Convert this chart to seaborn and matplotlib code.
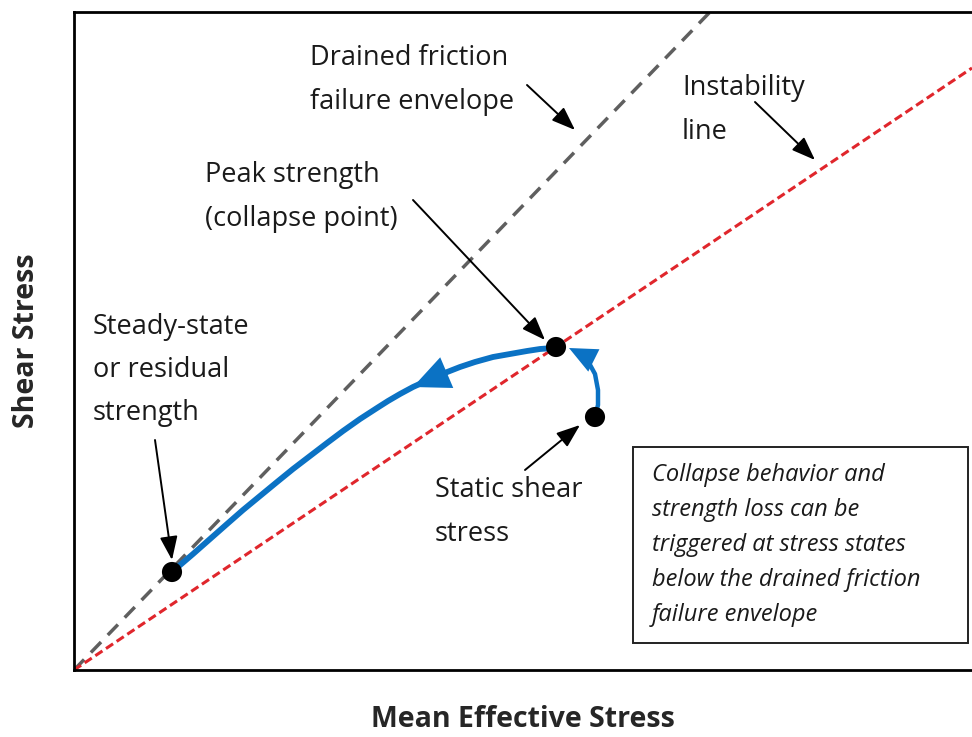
import matplotlib
matplotlib.use("Agg")
import matplotlib.pyplot as plt
from matplotlib.patches import Rectangle
import seaborn as sns
import pandas as pd

# Enveloppes (extrémités)
drained_x = [0.0, 6.36]
drained_y = [0.0, 6.58]
instab_x = [0.0, 8.98]
instab_y = [0.0, 6.02]

# Chemin de contrainte : état stationnaire <- pic
path_x = [0.98, 1.19, 1.36, 1.53, 1.69, 1.86, 2.03, 2.19, 2.36, 2.53, 2.69, 2.86,
          3.03, 3.14, 3.26, 3.39, 3.63, 3.86, 4.01, 4.19, 4.36, 4.53, 4.66, 4.79, 4.82]
path_y = [0.98, 1.16, 1.31, 1.46, 1.60, 1.74, 1.88, 2.01, 2.14, 2.27, 2.39, 2.51,
          2.62, 2.69, 2.76, 2.83, 2.94, 3.03, 3.08, 3.13, 3.16, 3.19, 3.21, 3.22, 3.23]

# Chemin : contrainte statique -> pic
static_x = [5.21, 5.24, 5.24, 5.21, 5.15, 5.07, 4.95]
static_y = [2.53, 2.65, 2.80, 2.96, 3.07, 3.16, 3.22]

# Points clés
pts = pd.DataFrame({
    "p": [0.98, 4.82, 5.21],
    "q": [0.98, 3.23, 2.53],
})

# Annotations : texte, position du texte, flèche (départ, arrivée)
labels = ["Drained friction\nfailure envelope", "Instability\nline",
          "Peak strength\n(collapse point)", "Steady-state\nor residual\nstrength",
          "Static shear\nstress"]
label_xy = [(2.36, 5.90), (6.08, 5.60), (1.31, 4.73), (0.19, 3.00), (3.61, 1.58)]
arrow_from = [(4.53, 5.85), (6.81, 5.68), (3.39, 4.70), (0.81, 2.30), (4.51, 2.00)]
arrow_to = [(5.01, 5.40), (7.41, 5.10), (4.71, 3.30), (0.98, 1.10), (5.06, 2.45)]

note = ("Collapse behavior and\nstrength loss can be\ntriggered at stress states\n"
        "below the drained friction\nfailure envelope")

sns.set_style("white")
plt.rcParams["font.family"] = ["Open Sans", "DejaVu Sans"]

fig = plt.figure(figsize=(9.72, 7.37), dpi=100)
ax = fig.add_axes([74 / 972, 67 / 737, 898 / 972, 658 / 737])

blue = "#0b72c4"
sns.lineplot(x=drained_x, y=drained_y, ax=ax, color="#5f5f5f", lw=2.5,
             linestyle=(0, (4.2, 2.8)))
sns.lineplot(x=instab_x, y=instab_y, ax=ax, color="#e0262c", lw=2.2,
             linestyle=(0, (2.8, 1.4)))
sns.lineplot(x=path_x, y=path_y, ax=ax, color=blue, lw=4.2, sort=False,
             estimator=None)
sns.lineplot(x=static_x[:-1], y=static_y[:-1], ax=ax, color=blue, lw=3.2,
             sort=False, estimator=None)

# têtes de flèche bleues
ax.annotate("", xy=(path_x[15], path_y[15]), xytext=(path_x[17], path_y[17]),
            arrowprops=dict(arrowstyle="-|>,head_length=1.1,head_width=0.5",
                            color=blue, lw=0, mutation_scale=24,
                            shrinkA=0, shrinkB=0))
ax.annotate("", xy=(static_x[-1], static_y[-1]), xytext=(static_x[-2], static_y[-2]),
            arrowprops=dict(arrowstyle="-|>,head_length=1.0,head_width=0.45",
                            color=blue, lw=0, mutation_scale=20,
                            shrinkA=0, shrinkB=0))

sns.scatterplot(data=pts, x="p", y="q", ax=ax, color="black", s=210,
                edgecolor="none", zorder=5)

for txt, xy, a0, a1 in zip(labels, label_xy, arrow_from, arrow_to):
    ax.text(xy[0], xy[1], txt, fontsize=19.5, color="#1a1a1a", va="center",
            ha="left", linespacing=1.72)
    ax.annotate("", xy=a1, xytext=a0,
                arrowprops=dict(arrowstyle="-|>,head_length=0.8,head_width=0.3",
                                color="black", lw=1.4, mutation_scale=18,
                                shrinkA=0, shrinkB=0))

ax.add_patch(Rectangle((5.59, 0.27), 3.35, 1.96, fill=False, edgecolor="#222222",
                       lw=1.4, zorder=6))
ax.text(5.78, 1.25, note, fontsize=17, style="italic", color="#1a1a1a",
        va="center", ha="left", linespacing=1.62)

ax.set_xlim(0, 8.98)
ax.set_ylim(0, 6.58)
ax.set_xticks([])
ax.set_yticks([])
for side in ["left", "top", "bottom"]:
    ax.spines[side].set_color("black")
    ax.spines[side].set_linewidth(2.0)
ax.spines["right"].set_visible(False)
ax.set_xlabel("Mean Effective Stress", fontsize=20.5, fontweight="bold", labelpad=25)
ax.set_ylabel("Shear Stress", fontsize=20.5, fontweight="bold", labelpad=24)
if ax.get_legend():
    ax.get_legend().remove()

fig.savefig("out.png", dpi=100)
